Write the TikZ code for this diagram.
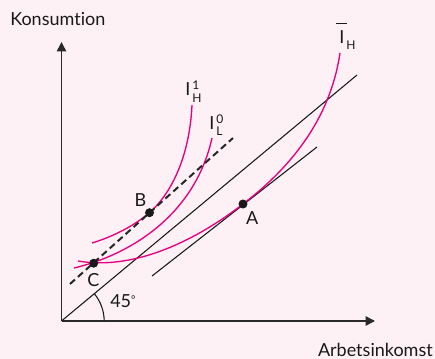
\documentclass[tikz,border=0pt]{standalone}
\usepackage{fontspec}
\setmainfont{Lato}[Ligatures=CommonOff]
\usetikzlibrary{arrows.meta,positioning}
\definecolor{bgpink}{HTML}{FDF1F6}
\definecolor{curve}{HTML}{E6007E}
\definecolor{axis}{HTML}{2A2A2A}
\newcommand{\ilab}[2]{I\kern1.5pt\makebox[0pt][l]{\raisebox{4.5pt}{\fontsize{9}{9}\selectfont#1}}\raisebox{-4.8pt}{\fontsize{9}{9}\selectfont#2}}

\begin{document}
\begin{tikzpicture}[x=0.75pt,y=-0.75pt,font=\fontsize{13.5}{15}\selectfont,text=black!90,
  ax/.style={-{Triangle[length=7pt,width=7pt]},line width=1.1pt,axis},
  ln/.style={line width=0.8pt,black!90},
  dsh/.style={line width=1.5pt,black!85,dash pattern=on 5pt off 3pt},
  ic/.style={line width=1pt,curve},
  dot/.style={circle,fill=black!90,inner sep=0pt,minimum size=6.5pt},
  lbl/.style={inner sep=0pt}]
\fill[bgpink] (0,0) rectangle (435,359);
\useasboundingbox (0,0) rectangle (435,359);
\coordinate (O) at (61.5,321);
\coordinate (ytop) at (61.5,42);
\coordinate (xend) at (375,321);
\coordinate (diag) at (357,75);
\coordinate (tg1) at (152,276);
\coordinate (tg2) at (317,147);
\coordinate (ds1) at (70,284);
\coordinate (ds2) at (233,138);
\coordinate (h1a) at (92,243);
\coordinate (h1b) at (192,105);
\coordinate (l0a) at (74,268);
\coordinate (l0b) at (212,138);
\coordinate (hba) at (78,261);
\coordinate (hbb) at (340,53);
\node[dot] (A) at (243,204) {};
\node[dot] (B) at (149.5,212.7) {};
\node[dot] (C) at (93.7,263.2) {};
\draw[ax] (O) -- (ytop);
\draw[ax] (O) -- (xend);
\draw[ln] (O) -- (diag);
\draw[ln] (tg1) -- (tg2);
\draw[ln] ([shift={(32pt,0pt)}]O) arc[start angle=0,end angle=39.8,radius=32pt];
\draw[ic] (h1a) .. controls (115,236) and (135,225) .. (B.center) .. controls (175,190) and (190,150) .. (h1b);
\draw[ic] (l0a) .. controls (130,255) and (195,215) .. (l0b);
\draw[ic] (hba) .. controls (130,270) and (190,245) .. (A.center) .. controls (290,168) and (330,120) .. (hbb);
\draw[dsh] (ds1) -- (ds2);
\node[dot] at (A) {};
\node[dot] at (B) {};
\node[dot] at (C) {};
\node[lbl,anchor=base west] (ylab) at (10,26) {Konsumtion};
\node[lbl,anchor=base east] (xlab) at (433,356) {Arbetsinkomst};
\node[lbl,anchor=base] (Alab) at (252.3,224.3) {A};
\node[lbl,anchor=base] (Blab) at (140.5,206.7) {B};
\node[lbl,anchor=base] (Clab) at (93.3,286.7) {C};
\node[lbl,anchor=base west] (ang) at (110,308) {45\raisebox{3pt}{\fontsize{8}{8}\selectfont°}};
\node[lbl,anchor=base west] (ih1) at (185,96) {\ilab{1}{H}};
\node[lbl,anchor=base west] (il0) at (209,129.3) {\ilab{0}{L}};
\node[lbl,anchor=base west] (ihb) at (339,43.3) {\makebox[0pt][l]{\hspace{-2.2pt}\raisebox{14.5pt}{\rule{8pt}{0.9pt}}}\ilab{}{H}};
\end{tikzpicture}
\end{document}
